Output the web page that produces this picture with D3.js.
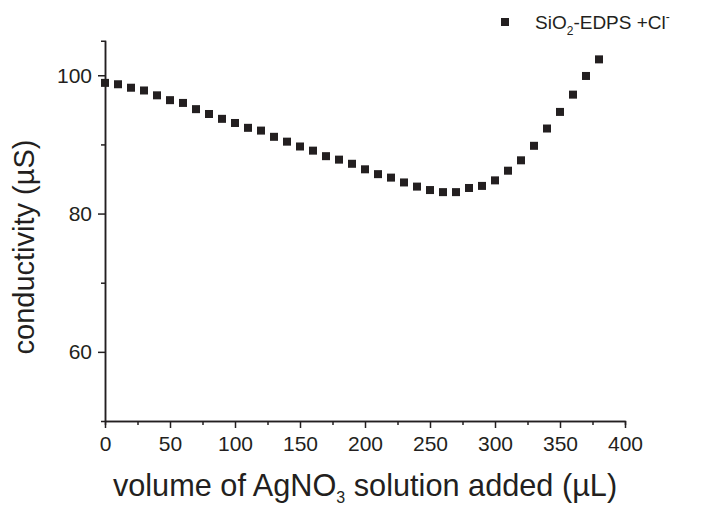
<!DOCTYPE html>
<html>
<head>
<meta charset="utf-8">
<script src="https://cdn.jsdelivr.net/npm/d3@7"></script>
<style>
  html, body { margin: 0; padding: 0; background: #fff; }
  svg { display: block; font-family: "Liberation Sans", Arial, sans-serif; }
</style>
</head>
<body>
<svg id="chart" width="705" height="506"></svg>
<script>
// ---- data ----
const volumes = [0, 10, 20, 30, 40, 50, 60, 70, 80, 90, 100, 110, 120, 130, 140, 150, 160, 170, 180, 190,
                 200, 210, 220, 230, 240, 250, 260, 270, 280, 290, 300, 310, 320, 330, 340, 350, 360, 370, 380];
const conductivity = [98.9, 98.7, 98.2, 97.8, 97.1, 96.4, 96.0, 95.1, 94.4, 93.7, 93.1, 92.4, 92.0, 91.1, 90.4,
                      89.7, 89.1, 88.3, 87.8, 87.2, 86.4, 85.7, 85.2, 84.5, 83.9, 83.4, 83.1, 83.1, 83.7, 84.0,
                      84.8, 86.2, 87.7, 89.8, 92.3, 94.7, 97.2, 99.9, 102.3];
const xTicks = [0, 50, 100, 150, 200, 250, 300, 350, 400];
const xMinorTicks = [25, 75, 125, 175, 225, 275, 325, 375];
const yTicks = [60, 80, 100];
const yMinorTicks = [70, 90];

// ---- layout ----
const ink = "#231f20";
const svg = d3.select("#chart");
const x = d3.scaleLinear().domain([0, 400]).range([105, 625]);
const y = d3.scaleLinear().domain([50, 105]).range([421, 40.7]);

// x axis
const gx = svg.append("g").attr("transform", `translate(0,${y(50)})`);
gx.call(d3.axisBottom(x).tickValues(xTicks).tickSize(7).tickPadding(8).tickSizeOuter(0));
gx.append("g").call(d3.axisBottom(x).tickValues(xMinorTicks).tickSize(4).tickFormat(""));
// y axis
const gy = svg.append("g").attr("transform", `translate(${x(0)},0)`);
gy.call(d3.axisLeft(y).tickValues(yTicks).tickSize(7).tickPadding(6).tickSizeOuter(0));
gy.append("g").call(d3.axisLeft(y).tickValues(yMinorTicks).tickSize(4).tickFormat(""));

svg.selectAll(".domain").attr("stroke", ink).attr("stroke-width", 1.5);
svg.selectAll(".tick line").attr("stroke", ink).attr("stroke-width", 1.5);
svg.selectAll(".tick text").attr("fill", ink).attr("font-size", 21)
   .attr("font-family", "'Liberation Sans', Arial, sans-serif");
gx.select("g").select(".domain").remove();
gy.select("g").select(".domain").remove();

// data markers
const ms = 8;
svg.append("g").selectAll("rect").data(volumes).join("rect")
  .attr("x", (d) => x(d) - ms / 2)
  .attr("y", (d, i) => y(conductivity[i]) - ms / 2)
  .attr("width", ms).attr("height", ms)
  .attr("fill", ink);

// axis titles
const xt = svg.append("text").attr("x", 365).attr("y", 496)
  .attr("text-anchor", "middle").attr("font-size", 30.7).attr("fill", ink);
xt.append("tspan").text("volume of AgNO");
xt.append("tspan").attr("font-size", 16).attr("dy", 7).text("3");
xt.append("tspan").attr("dy", -7).text(" solution added (\u00b5L)");

svg.append("text")
  .attr("transform", "translate(34,247) rotate(-90)")
  .attr("text-anchor", "middle").attr("font-size", 29).attr("fill", ink)
  .text("conductivity (\u00b5S)");

// legend
const lg = svg.append("g");
lg.append("rect").attr("x", 505 - ms / 2).attr("y", 22 - ms / 2).attr("width", ms).attr("height", ms).attr("fill", ink);
const lt = lg.append("text").attr("x", 535).attr("y", 29).attr("font-size", 19).attr("fill", ink);
lt.append("tspan").text("SiO");
lt.append("tspan").attr("font-size", 12).attr("dy", 6).text("2");
lt.append("tspan").attr("dy", -6).text("-EDPS +Cl");
lt.append("tspan").attr("font-size", 12).attr("dy", -8).text("-");
</script>
</body>
</html>
